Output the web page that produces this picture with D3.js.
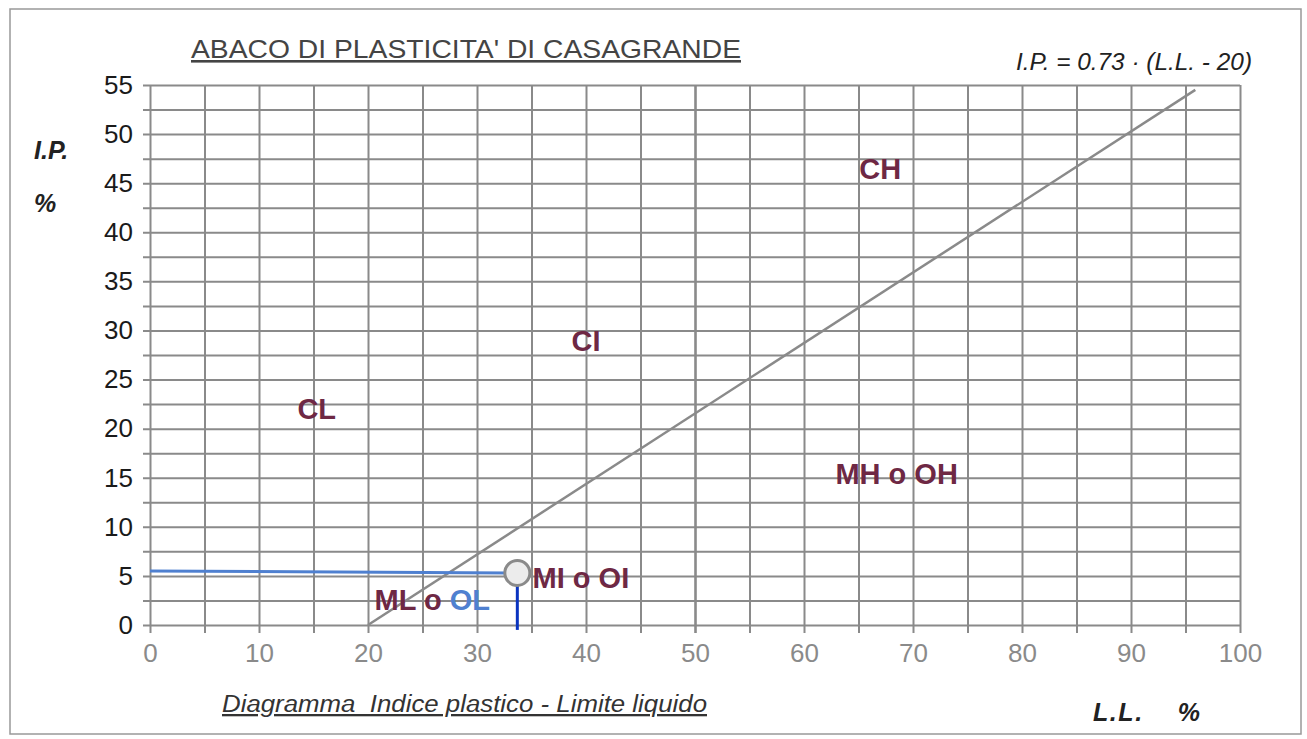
<!DOCTYPE html>
<html>
<head>
<meta charset="utf-8">
<script src="https://cdn.jsdelivr.net/npm/d3@7"></script>
<style>
  body { margin: 0; background: #fff; }
  text { font-family: "Liberation Sans", Arial, sans-serif; }
</style>
</head>
<body>
<div id="chart"></div>
<script>
var width = 1307;
var height = 739;

// data
var xTicks = d3.range(0, 101, 5);          // vertical grid every 5
var yTicks = d3.range(0, 55.01, 2.5);      // horizontal grid every 2.5
var aLine = [[20, 0], [95.9, 54.5]];       // I.P. = 0.73 (L.L. - 20), as drawn
var sample = { ll: 33.7, ip: 5.3 };
var zones = [
  { name: "CH", ll: 67, ip: 46.5, anchor: "middle" },
  { name: "CI", ll: 40, ip: 29, anchor: "middle" },
  { name: "CL", ll: 15.3, ip: 22, anchor: "middle" },
  { name: "MH o OH", ll: 68.5, ip: 15.4, anchor: "middle" },
  { name: "MI o OI", ll: 35.1, ip: 4.8, anchor: "start" }
];

var svg = d3.select("#chart").append("svg")
    .attr("width", width)
    .attr("height", height);

// scanned sheet frame
svg.append("rect")
    .attr("x", 10).attr("y", 9)
    .attr("width", 1291).attr("height", 725)
    .attr("fill", "none")
    .attr("stroke", "#999")
    .attr("stroke-width", 1.5);

var xScale = d3.scaleLinear().domain([0, 100]).range([150, 1240]);
var yScale = d3.scaleLinear().domain([0, 55]).range([625, 85]);

// horizontal grid + y labels
var yAxis = d3.axisLeft(yScale)
    .tickValues(yTicks)
    .tickSize(-(1240 - 143))
    .tickPadding(10)
    .tickFormat(function(d) { return d % 5 === 0 ? d : ""; });

var gy = svg.append("g")
    .attr("transform", "translate(143,0)")
    .call(yAxis);
gy.select(".domain").remove();
gy.selectAll("line").attr("stroke", "#8a8a8a").attr("stroke-width", 2);
gy.selectAll("text")
    .attr("fill", "#1a1a1a")
    .style("font-size", "26px");

// vertical grid + x labels
var xAxis = d3.axisBottom(xScale)
    .tickValues(xTicks)
    .tickSize(633 - 85)
    .tickPadding(11)
    .tickFormat(function(d) { return d % 10 === 0 ? d : ""; });

var gx = svg.append("g")
    .attr("transform", "translate(0,85)")
    .call(xAxis);
gx.select(".domain").remove();
gx.selectAll("line")
    .attr("stroke", "#8a8a8a")
    .attr("stroke-width", function(d) { return d === 50 ? 2.6 : 2; });
gx.selectAll("text")
    .attr("fill", "#8a8a8a")
    .style("font-size", "26px");

// A-line
svg.append("line")
    .attr("x1", xScale(aLine[0][0])).attr("y1", yScale(aLine[0][1]))
    .attr("x2", xScale(aLine[1][0])).attr("y2", yScale(aLine[1][1]))
    .attr("stroke", "#8a8a8a")
    .attr("stroke-width", 2.5);

// zone labels
svg.selectAll(".zone")
    .data(zones)
    .enter()
    .append("text")
    .attr("class", "zone")
    .attr("x", function(d) { return xScale(d.ll); })
    .attr("y", function(d) { return yScale(d.ip); })
    .attr("dy", "0.36em")
    .attr("text-anchor", function(d) { return d.anchor; })
    .attr("fill", "#6e2844")
    .style("font-size", "29px")
    .style("font-weight", "bold")
    .text(function(d) { return d.name; });

var ml = svg.append("text")
    .attr("x", xScale(25.9))
    .attr("y", yScale(2.6))
    .attr("dy", "0.36em")
    .attr("text-anchor", "middle")
    .style("font-size", "29px")
    .style("font-weight", "bold");
ml.append("tspan").attr("fill", "#6e2844").text("ML o ");
ml.append("tspan").attr("fill", "#4f80d0").text("OL");

// sample point
svg.append("line")
    .attr("x1", xScale(0)).attr("y1", yScale(sample.ip + 0.2))
    .attr("x2", xScale(sample.ll)).attr("y2", yScale(sample.ip))
    .attr("stroke", "#4f80d0")
    .attr("stroke-width", 3);
svg.append("line")
    .attr("x1", xScale(sample.ll)).attr("y1", yScale(sample.ip))
    .attr("x2", xScale(sample.ll)).attr("y2", yScale(-0.5))
    .attr("stroke", "#0a34c0")
    .attr("stroke-width", 3);
svg.append("circle")
    .attr("cx", xScale(sample.ll))
    .attr("cy", yScale(sample.ip))
    .attr("r", 12.5)
    .attr("fill", "#ececec")
    .attr("stroke", "#8a8a8a")
    .attr("stroke-width", 3);

// titles
svg.append("text")
    .attr("x", 191).attr("y", 58)
    .attr("fill", "#444")
    .attr("textLength", 550)
    .attr("lengthAdjust", "spacingAndGlyphs")
    .style("font-size", "26px")
    .style("text-decoration", "underline")
    .text("ABACO DI PLASTICITA' DI CASAGRANDE");

svg.append("text")
    .attr("x", 1016).attr("y", 70)
    .attr("fill", "#222")
    .attr("textLength", 236)
    .attr("lengthAdjust", "spacingAndGlyphs")
    .style("font-size", "23px")
    .style("font-style", "italic")
    .text("I.P. = 0.73 \u00b7 (L.L. - 20)");

svg.append("text")
    .attr("x", 34).attr("y", 159)
    .attr("fill", "#222")
    .style("font-size", "25px")
    .style("font-weight", "bold")
    .style("font-style", "italic")
    .text("I.P.");
svg.append("text")
    .attr("x", 34).attr("y", 212)
    .attr("fill", "#222")
    .style("font-size", "25px")
    .style("font-weight", "bold")
    .style("font-style", "italic")
    .text("%");

svg.append("text")
    .attr("x", 1093).attr("y", 721)
    .attr("fill", "#222")
    .attr("textLength", 107)
    .attr("lengthAdjust", "spacing")
    .style("font-size", "25px")
    .style("font-weight", "bold")
    .style("font-style", "italic")
    .style("white-space", "pre")
    .text("L.L.    %");

svg.append("text")
    .attr("x", 222).attr("y", 712)
    .attr("fill", "#333")
    .attr("textLength", 485)
    .attr("lengthAdjust", "spacingAndGlyphs")
    .style("font-size", "23px")
    .style("font-style", "italic")
    .style("text-decoration", "underline")
    .style("white-space", "pre")
    .text("Diagramma  Indice plastico - Limite liquido");
</script>
</body>
</html>
